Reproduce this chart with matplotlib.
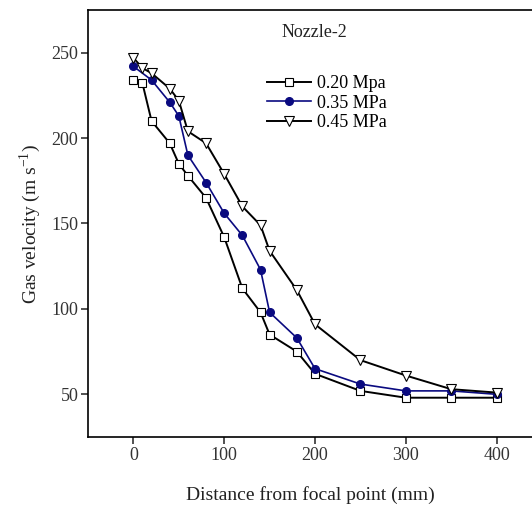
import matplotlib
matplotlib.use("Agg")
import matplotlib.pyplot as plt

plt.rcParams['font.family'] = ['Liberation Serif', 'DejaVu Serif']
plt.rcParams['mathtext.fontset'] = 'custom'
plt.rcParams['mathtext.rm'] = 'Liberation Serif'

# distance from focal point (mm)
x_020 = [0, 10, 20, 40, 50, 60, 80, 100, 120, 140, 150, 180, 200, 250, 300, 350, 400]
v_020 = [234, 232, 210, 197, 185, 178, 165, 142, 112, 98, 85, 75, 62, 52, 48, 48, 48]

x_035 = [0, 20, 40, 50, 60, 80, 100, 120, 140, 150, 180, 200, 250, 300, 350, 400]
v_035 = [242, 234, 221, 213, 190, 174, 156, 143, 123, 98, 83, 65, 56, 52, 52, 50]

x_045 = [0, 10, 20, 40, 50, 60, 80, 100, 120, 140, 150, 180, 200, 250, 300, 350, 400]
v_045 = [247, 241, 238, 229, 222, 204, 197, 179, 160, 149, 134, 111, 91, 70, 61, 53, 51]

labels = ['0.20 Mpa', '0.35 MPa', '0.45 MPa']
navy = '#0a0a80'

fig = plt.figure(figsize=(5.32, 5.11), dpi=100)
ax = fig.add_axes([88/532, 74/511, 444/532, 427/511])

ax.plot(x_020, v_020, color='black', lw=1.4, marker='s', ms=5.5,
        mfc='white', mec='black', mew=0.8, label=labels[0])
ax.plot(x_035, v_035, color=navy, lw=1.2, marker='o', ms=5.5,
        mfc=navy, mec=navy, label=labels[1])
ax.plot(x_045, v_045, color='black', lw=1.4, marker='v', ms=7,
        mfc='white', mec='black', mew=0.8, label=labels[2])

ax.set_xlim(-50, 439)
ax.set_ylim(25, 275)
ax.set_xticks([0, 100, 200, 300, 400])
ax.set_yticks([50, 100, 150, 200, 250])
ax.spines['right'].set_visible(False)
for s in ['left', 'bottom', 'top']:
    ax.spines[s].set_linewidth(1.2)
ax.tick_params(direction='out', length=5, width=1.2, labelsize=13, colors='#333333', pad=2)

ax.set_xlabel('Distance from focal point (mm)', fontsize=14, color='#222222', labelpad=16)
ax.set_ylabel('Gas velocity (m s$^{-1}$)', fontsize=14, color='#222222', labelpad=6)

ax.text(0.511, 0.948, 'Nozzle-2', transform=ax.transAxes, fontsize=13,
        ha='center', va='center', color='#222222')
ax.legend(frameon=False, fontsize=13, loc='upper left', bbox_to_anchor=(0.367, 0.886),
          handlelength=2.4, handletextpad=0.35, labelspacing=0.15)

fig.savefig('out.png', dpi=100)
